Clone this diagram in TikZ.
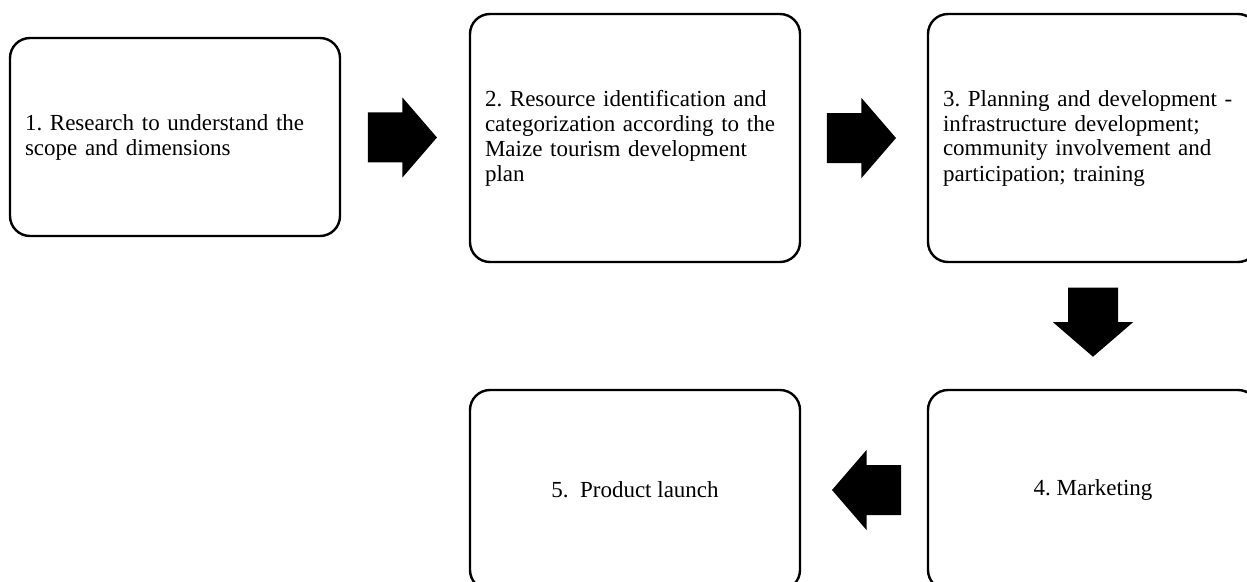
\documentclass[tikz,border=0pt]{standalone}
\usepackage{fontspec}
\setmainfont{Liberation Serif}
\usepackage{tikz}
\usetikzlibrary{positioning, calc}
\frenchspacing

\tikzset{
    stepbox/.style={rectangle,draw=black,line width=2.4pt,rounded corners=20pt,minimum width=330pt,inner xsep=15pt,font=\fontsize{23}{25}\selectfont},
    pics/blockarrow/.style={code={\fill (-34.5,-25) -- (0,-25) -- (0,-40) -- (34.5,0) -- (0,40) -- (0,25) -- (-34.5,25) -- cycle;}}
}

\begin{document}
\begin{tikzpicture}[x=1pt,y=-1pt]
    \useasboundingbox (0,0) rectangle (1247,581);
    % Fasi del processo
    \node[stepbox,minimum height=198pt,text width=300pt,align=left] (research) at (175,137) {1. Research to understand the\\scope and dimensions};
    \node[stepbox,minimum height=248pt,text width=300pt,align=left] (resources) at (635,138) {2. Resource identification and\\categorization according to the\\Maize tourism development\\plan};
    \node[stepbox,minimum height=248pt,text width=300pt,align=left] (planning) at (1093,138) {3. Planning and development -\\infrastructure development;\\community involvement and\\participation; training};
    \node[stepbox,minimum height=200pt,align=center] (marketing) at (1093,490) {4. Marketing};
    \node[stepbox,minimum height=200pt,align=center] (launch) at (635,490) {5.\ \ Product launch};

    % Frecce
    \pic at ($(research.east)!0.48!(resources.west)$) {blockarrow};
    \pic at ($(resources.east)!0.48!(planning.west)$) {blockarrow};
    \pic[rotate=-90] at ($(planning.south)!0.47!(marketing.north)$) {blockarrow};
    \pic[rotate=180] at ($(marketing.west)!0.48!(launch.east)$) {blockarrow};
\end{tikzpicture}
\end{document}
